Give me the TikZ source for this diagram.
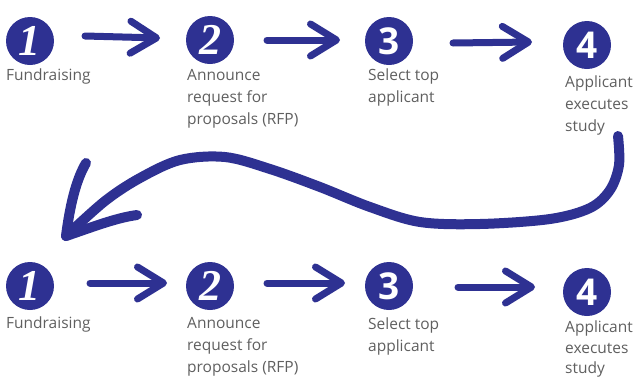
\documentclass[tikz,border=0pt]{standalone}
\usepackage{fontspec}
\setmainfont{Open Sans}
\newfontfamily\numserif{Liberation Serif}
\newfontfamily\numsans{Open Sans}
\usetikzlibrary{arrows.meta,calc}
\definecolor{brand}{RGB}{46,49,146}
\definecolor{txt}{RGB}{95,95,95}
\tikzset{
  circ/.style={circle,fill=brand,minimum size=48pt,inner sep=0pt,text=white},
  numA/.style={font=\numserif\bfseries\itshape\fontsize{44}{44}\selectfont},
  numB/.style={font=\numsans\bfseries\fontsize{37}{37}\selectfont},
  lbl/.style={anchor=base west,inner sep=0pt,align=left,text=txt,font=\fontsize{15.5}{21.7}\selectfont},
  smallarrow/.style={draw=brand,line width=7pt,line cap=round,
    -{Straight Barb[length=26pt,width=32pt,line width=7pt,round]}},
  bigline/.style={draw=brand,line width=10pt,line cap=round,line join=round},
}
\begin{document}
\begin{tikzpicture}[x=1pt,y=-1pt]
\useasboundingbox (0,0) rectangle (635,378);
% top row
\node[circ,numA] (t1) at (30,41) {1};
\node[circ,numA] (t2) at (210,40) {2};
\node[circ,numB] (t3) at (389,41) {3};
\node[circ,numB] (t4) at (587,45) {4};
\node[lbl] (tl1) at (6,80) {Fundraising};
\node[lbl] (tl2) at (187,124) {Announce\\request for\\proposals (RFP)};
\node[lbl] (tl3) at (368,102.5) {Select top\\applicant};
\node[lbl] (tl4) at (565,131) {Applicant\\executes\\study};
\draw[smallarrow] ([shift={(55,-5)}]t1.center) -- ([shift={(-50,-2)}]t2.center);
\draw[smallarrow] ([shift={(57,0)}]t2.center) -- ([shift={(-49,-1)}]t3.center);
\draw[smallarrow] ([shift={(64,2)}]t3.center) -- ([shift={(-55,-3)}]t4.center);
% bottom row
\node[circ,numA] (b1) at (30,286) {1};
\node[circ,numA] (b2) at (210,286) {2};
\node[circ,numB] (b3) at (389,286) {3};
\node[circ,numB] (b4) at (587,292) {4};
\node[lbl] (bl1) at (6,328) {Fundraising};
\node[lbl] (bl2) at (187,372) {Announce\\request for\\proposals (RFP)};
\node[lbl] (bl3) at (368,351) {Select top\\applicant};
\node[lbl,font=\fontsize{15.5}{20.5}\selectfont] (bl4) at (565,373.5) {Applicant\\executes\\study};
\draw[smallarrow] ([shift={(60,-3)}]b1.center) -- ([shift={(-43,-3)}]b2.center);
\draw[smallarrow] ([shift={(57,-3)}]b2.center) -- ([shift={(-44,-3)}]b3.center);
\draw[smallarrow] ([shift={(69,1)}]b3.center) -- ([shift={(-52,-5)}]b4.center);
% big return arrow
\coordinate (rs) at (618,136);
\coordinate (rt) at (66,236);
\draw[bigline] plot[smooth,tension=0.55] coordinates {(rs) (619,165) (610,190) (590,208) (550,219) (480,224) (420,222) (370,207) (320,187) (270,169) (225,157) (180,160) (140,178) (105,201) (rt)};
\draw[bigline] (rt) .. controls (70,205) and (76,180) .. (86,163);
\draw[bigline] (rt) .. controls (90,228) and (115,218) .. (137,215);
\end{tikzpicture}
\end{document}
